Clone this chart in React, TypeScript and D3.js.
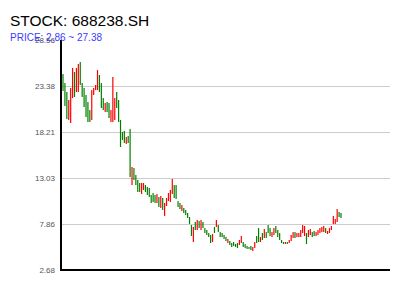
import React from "react";
import * as d3 from "d3";

const TITLE = "STOCK: 688238.SH";
const SUBTITLE = "PRICE: 2.86 ~ 27.38";
const yTicks = [2.68, 7.86, 13.03, 18.21, 23.38, 28.56];

const opens = [
  24.73, 23.72, 22.71, 19.56, 19.22, 22.03, 24.96, 22.71, 22.71, 26.08,
  23.72, 23.16, 22.37, 21.58, 20.68, 19.56, 22.37, 22.93, 22.93, 24.62,
  23.72, 22.03, 20.46, 21.58, 21.47, 19.33, 19.33, 19.56, 22.71, 21.81,
  19.56, 18.21, 18.32, 16.86, 17.76, 18.55, 12.24, 14.16, 13.37, 12.81,
  12.47, 11.23, 11.68, 12.24, 12.02, 11.91, 11.12, 11.34, 11.12, 10.22,
  10.89, 9.66, 10.78, 8.76, 9.88, 10.44, 10.33, 11.23, 12.24, 12.24,
  10.44, 10.22, 9.32, 9.66, 9.43, 9.09, 8.64, 7.74, 5.83, 8.08,
  7.18, 8.19, 7.18, 8.08, 7.40, 7.18, 6.84, 6.62, 5.83, 7.52,
  7.52, 7.74, 6.95, 6.84, 6.62, 6.39, 5.72, 5.94, 5.72, 5.83,
  5.61, 5.72, 5.49, 5.72, 5.83, 5.61, 5.38, 5.27, 5.38, 4.82,
  5.16, 6.50, 7.40, 5.83, 6.84, 6.28, 6.95, 7.74, 7.40, 6.39,
  6.62, 7.63, 7.18, 6.84, 6.06, 5.83, 5.61, 5.83, 5.72, 5.94,
  6.28, 6.95, 6.39, 6.39, 6.39, 6.84, 6.50, 6.84, 6.39, 6.62,
  6.95, 7.07, 6.50, 6.62, 6.84, 6.95, 6.95, 7.40, 6.73, 6.84,
  7.18, 7.86, 7.86, 8.08, 9.21, 9.09,
];

const closes = [
  22.82, 21.13, 19.67, 21.81, 23.16, 25.41, 22.15, 25.41, 25.86, 23.50,
  22.15, 21.02, 19.89, 19.33, 19.33, 22.93, 23.16, 23.50, 25.18, 22.71,
  20.91, 20.68, 21.47, 20.46, 19.78, 20.68, 24.40, 22.03, 20.91, 19.33,
  16.52, 17.31, 16.97, 17.64, 16.97, 13.14, 14.27, 12.81, 12.24, 11.46,
  11.46, 12.47, 12.47, 11.46, 11.12, 10.89, 10.22, 10.33, 10.22, 11.23,
  9.77, 11.01, 9.43, 10.22, 10.78, 11.34, 11.68, 12.92, 10.78, 10.67,
  9.77, 9.54, 9.99, 9.09, 8.87, 8.53, 7.86, 6.50, 7.52, 7.18,
  8.31, 7.40, 8.31, 7.40, 6.84, 6.62, 6.39, 5.72, 6.73, 6.84,
  8.31, 6.95, 6.39, 6.39, 6.17, 5.94, 6.17, 5.49, 5.27, 5.38,
  5.27, 5.16, 6.06, 6.50, 5.27, 5.16, 5.05, 5.05, 4.93, 5.27,
  5.83, 5.72, 5.83, 6.39, 6.06, 7.29, 6.28, 6.84, 6.50, 6.95,
  7.40, 6.84, 6.39, 6.06, 5.72, 5.61, 5.83, 5.61, 6.06, 6.62,
  6.95, 6.28, 6.84, 6.84, 7.18, 7.74, 7.63, 5.61, 7.18, 7.29,
  6.39, 6.50, 6.95, 7.18, 7.40, 7.52, 7.63, 6.84, 7.07, 7.40,
  7.63, 8.76, 8.42, 9.54, 8.64, 8.53,
];

const RED = "#ff0000";
const GREEN = "#008000";

export default function App() {
  const n = Math.min(opens.length, closes.length);
  const y = d3.scaleLinear().domain([2.68, 28.56]).range([270, 40]);
  const x = d3.scaleLinear().domain([0, n - 1]).range([63, 341]);
  const left = 61;
  const right = 390;
  const bw = 1.2;

  return (
    <svg
      width={400}
      height={300}
      style={{ position: "absolute", left: 0, top: 0, background: "#fff" }}
      fontFamily="'Liberation Sans', Arial, sans-serif"
    >
      {yTicks.slice(1, yTicks.length - 1).map((t) => (
        <line
          key={"g" + t}
          x1={left}
          x2={right}
          y1={Math.round(y(t)) + 0.5}
          y2={Math.round(y(t)) + 0.5}
          stroke="#cccccc"
          strokeWidth={1}
        />
      ))}
      {d3.range(n).map((i) => {
        const o = opens[i];
        const c = closes[i];
        const up = c >= o;
        const top = y(Math.max(o, c));
        const h = Math.max(1, Math.abs(y(o) - y(c)));
        return (
          <rect
            key={i}
            x={x(i) - bw / 2}
            y={top}
            width={bw}
            height={h}
            fill={up ? RED : GREEN}
          />
        );
      })}
      <line x1={left} x2={left} y1={40} y2={271} stroke="#000" strokeWidth={2} />
      <line x1={left - 1} x2={right} y1={270} y2={270} stroke="#000" strokeWidth={2} />
      {yTicks.map((t) => (
        <text
          key={"t" + t}
          x={55}
          y={y(t)}
          dy="0.35em"
          textAnchor="end"
          fontSize={8}
          fill="#555"
        >
          {t.toFixed(2)}
        </text>
      ))}
      <text x={10} y={26} fontSize={15.5} fill="#000">
        {TITLE}
      </text>
      <text x={10} y={41} fontSize={10} fill="#3b3bff">
        {SUBTITLE}
      </text>
    </svg>
  );
}
